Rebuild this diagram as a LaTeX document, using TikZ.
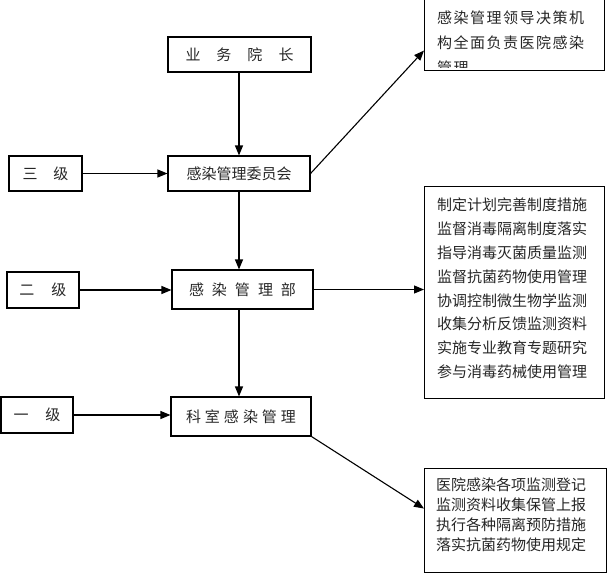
\documentclass[tikz,border=0pt]{standalone}
\usepackage{fontspec}
\newfontfamily\cjk{Noto Sans CJK SC}
\usetikzlibrary{arrows.meta}
\begin{document}
\begin{tikzpicture}[x=1pt,y=-1pt,
  every node/.style={inner sep=0pt, text=black!85},
  box/.style={draw, line width=1.1pt, font=\cjk\fontsize{15}{18}\selectfont},
  info/.style={draw, line width=1.1pt, anchor=north west},
  infotext/.style={anchor=north west, align=left, font=\cjk\fontsize{15}{#1}\selectfont},
  arr/.style={line width=1.1pt, -{Triangle[length=10pt,width=8pt]}}
]
\useasboundingbox (0,0) rectangle (610,573);

% main column
\node[box, minimum width=143pt, minimum height=35pt] (head) at (239.5,54.5) {业\hspace{16pt}务\hspace{16pt}院\hspace{16pt}长};
\node[box, minimum width=142pt, minimum height=35pt] (comm) at (239,173.5) {感染管理委员会};
\node[box, minimum width=141pt, minimum height=39pt] (dept) at (242.5,289.5) {感\hspace{8pt}染\hspace{8pt}管\hspace{8pt}理\hspace{8pt}部};
\node[box, minimum width=140pt, minimum height=39pt] (unit) at (241,416.5) {科\hspace{4pt}室\hspace{4pt}感\hspace{4pt}染\hspace{4pt}管\hspace{4pt}理};

% levels
\node[box, minimum width=73pt, minimum height=35pt] (l3) at (45.5,173.5) {三\hspace{16pt}级};
\node[box, minimum width=72pt, minimum height=36pt] (l2) at (43,290) {二\hspace{17pt}级};
\node[box, minimum width=72pt, minimum height=36pt] (l1) at (37,415) {一\hspace{17pt}级};

% info boxes
\node[info, minimum width=180pt, minimum height=72pt] (lead) at (424,-2) {};
\begin{scope}
  \clip (lead.north west) rectangle ([yshift=4pt]lead.south east);
  \node[infotext=25] (leadtext) at (437,11) {\addfontfeature{LetterSpace=10}感染管理领导决策机\\\addfontfeature{LetterSpace=10}构全面负责医院感染\\\addfontfeature{LetterSpace=10}管理};
\end{scope}
\node[info, minimum width=180pt, minimum height=212pt] (mid) at (424,186) {};
\node[infotext=23.9] (midtext) at (437,197.5) {制定计划完善制度措施\\监督消毒隔离制度落实\\指导消毒灭菌质量监测\\监督抗菌药物使用管理\\协调控制微生物学监测\\收集分析反馈监测资料\\实施专业教育专题研究\\参与消毒药械使用管理};
\node[info, minimum width=182pt, minimum height=104pt] (low) at (424,468) {};
\node[infotext=20] (lowtext) at (436,477.5) {医院感染各项监测登记\\监测资料收集保管上报\\执行各种隔离预防措施\\落实抗菌药物使用规定};

% connectors
\draw[arr] (head.south -| comm.south) -- (comm.north);
\draw[arr] (l3.east) -- (comm.west);
\draw[arr] (comm.south) -- (dept.north -| comm.south);
\draw[arr] (l2.east) -- (l2.east -| dept.west);
\draw[arr] (dept.south -| comm.south) -- (unit.north -| comm.south);
\draw[arr] (l1.east) -- (l1.east -| unit.west);
\draw[arr] (comm.east) -- ([yshift=-16pt]lead.west);
\draw[arr] (dept.east) -- (dept.east -| mid.west);
\draw[arr] (unit.south east) -- ([yshift=12pt]low.west);
\end{tikzpicture}
\end{document}
